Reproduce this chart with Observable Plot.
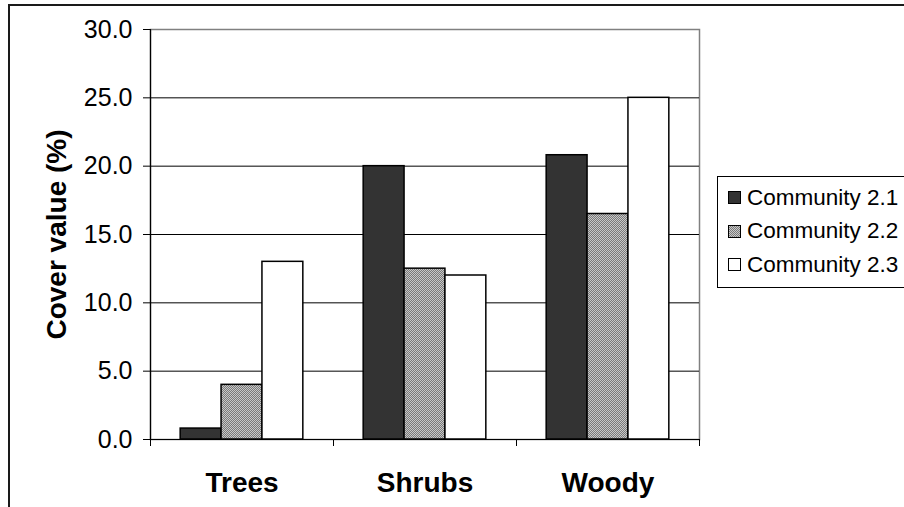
<!DOCTYPE html>
<html>
<head>
<meta charset="utf-8">
<script src="https://cdn.jsdelivr.net/npm/d3@7"></script>
<script src="https://cdn.jsdelivr.net/npm/@observablehq/plot@0.6"></script>
<style>
  html, body { margin: 0; padding: 0; background: #fff; }
  #wrap { position: relative; width: 904px; height: 507px; overflow: hidden; background: #fff;
          font-family: "Liberation Sans", Arial, sans-serif; }
  #outer { position: absolute; left: 8px; top: 4px; width: 1000px; height: 1000px;
           border: 2px solid #1a1a1a; box-sizing: border-box; }
  #chart { position: absolute; left: 0; top: 0; }
  #legend { position: absolute; left: 717px; top: 176px; width: 300px; height: 112px;
            border: 1px solid #000; box-sizing: border-box; background: #fff; padding: 4px 0 0 10px; }
  #legend .item { display: flex; align-items: center; height: 33.5px; font-size: 22.5px; color: #000; white-space: nowrap; }
  #legend svg { margin-right: 6px; overflow: visible; flex: none; }
</style>
</head>
<body>
<div id="wrap">
  <div id="outer"></div>
  <div id="chart"></div>
  <div id="legend"></div>
</div>
<script>
// ---- data ----
const categories = ["Trees", "Shrubs", "Woody"];
const seriesNames = ["Community 2.1", "Community 2.2", "Community 2.3"];
const community21 = [0.8, 20.0, 20.8];
const community22 = [4.0, 12.5, 16.5];
const community23 = [13.0, 12.0, 25.0];
const yTicks = [0, 5, 10, 15, 20, 25, 30];
const yTitle = "Cover value (%)";

// ---- styles ----
const seriesFills = ["#333333", "url(#checker)", "#ffffff"];

const seriesValues = [community21, community22, community23];
const rows = [];
categories.forEach((c, ci) => {
  seriesNames.forEach((s, si) => {
    rows.push({category: c, catIndex: ci, series: s, value: seriesValues[si][ci]});
  });
});

// inner layout of each category group
const inner = d3.scaleBand().domain(seriesNames).range([0, 1]).paddingInner(0).paddingOuter(0.738);

const chart = Plot.plot({
  width: 904,
  height: 507,
  marginLeft: 150,
  marginRight: 205,
  marginTop: 29,
  marginBottom: 68,
  style: {fontFamily: "'Liberation Sans', Arial, sans-serif", color: "#000", background: "transparent"},
  x: {type: "linear", domain: [0, 3], axis: null},
  y: {domain: [0, 30], axis: null},
  color: {type: "ordinal", domain: seriesNames, range: seriesFills},
  marks: [
    Plot.frame({stroke: "#808080", strokeWidth: 1.5}),
    Plot.gridY(yTicks.filter(t => t > 0 && t < 30), {stroke: "#000", strokeOpacity: 1, strokeWidth: 1}),
    Plot.rectY(rows, {
      x1: d => d.catIndex + inner(d.series),
      x2: d => d.catIndex + inner(d.series) + inner.bandwidth(),
      y1: 0,
      y2: "value",
      fill: "series",
      stroke: "#000",
      strokeWidth: 1.5
    }),
    Plot.ruleY([0], {stroke: "#000", strokeWidth: 1.2}),
    Plot.ruleX([0], {stroke: "#000", strokeWidth: 1.2}),
    Plot.axisY(yTicks, {
      tickSize: 7, tickPadding: 11, tickFormat: d3.format(".1f"),
      fontSize: 25, label: null, stroke: "#000"
    }),
    Plot.axisX([0, 1, 2, 3], {tickSize: 7, tickFormat: () => "", label: null, stroke: "#000"}),
    Plot.axisX([0.5, 1.5, 2.5], {
      tickSize: 0, tickPadding: 33, tickFormat: d => categories[Math.floor(d)],
      fontSize: 28, fontWeight: "bold", label: null
    }),
    Plot.text([yTitle], {
      frameAnchor: "left", textAnchor: "middle", rotate: -90, dx: -93,
      fontSize: 28, fontWeight: "bold", fill: "#000"
    })
  ]
});

// pattern for the textured series
const ns = "http://www.w3.org/2000/svg";
const defs = document.createElementNS(ns, "defs");
defs.innerHTML = `<pattern id="checker" width="2" height="2" patternUnits="userSpaceOnUse">
  <rect width="2" height="2" fill="#7a7a7a"></rect>
  <rect x="0" y="0" width="1" height="1" fill="#c8c8c8"></rect>
  <rect x="1" y="1" width="1" height="1" fill="#c8c8c8"></rect>
</pattern>`;
chart.insertBefore(defs, chart.firstChild);
document.getElementById("chart").appendChild(chart);

// legend built from the same color scale
const color = chart.scale("color");
const legend = document.getElementById("legend");
seriesNames.forEach((s) => {
  const item = document.createElement("div");
  item.className = "item";
  item.innerHTML = `<svg width="13" height="13"><rect x="0.5" y="0.5" width="12" height="12" fill="${color.apply(s)}" stroke="#000" stroke-width="1"></rect></svg><span>${s}</span>`;
  legend.appendChild(item);
});
</script>
</body>
</html>
